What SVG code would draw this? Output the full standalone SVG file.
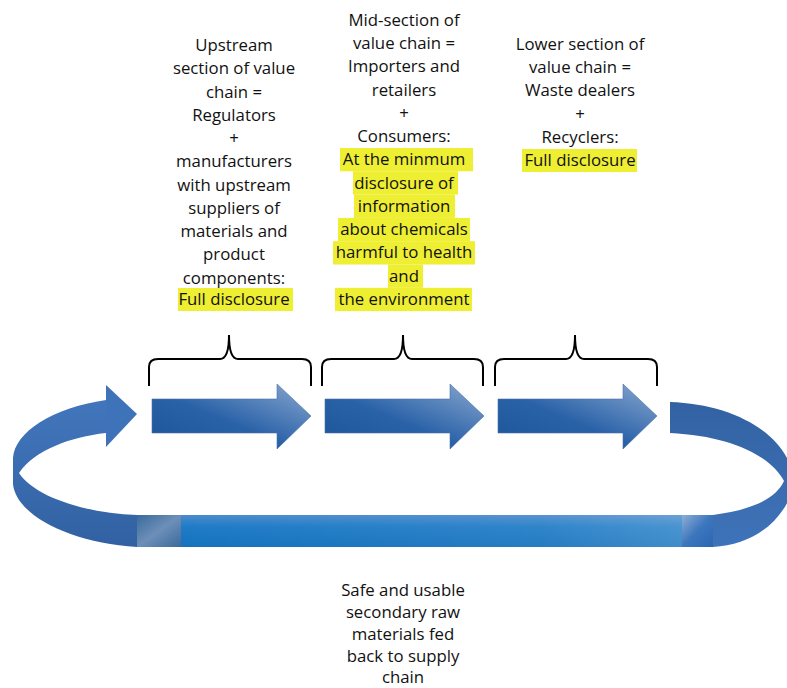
<svg xmlns="http://www.w3.org/2000/svg" width="787" height="688" viewBox="0 0 787 688">
<defs>
<linearGradient id="arrowGrad" x1="0" y1="1" x2="1" y2="0">
<stop offset="0" stop-color="#1C5499"/>
<stop offset="0.45" stop-color="#2A62A8"/>
<stop offset="1" stop-color="#8AA8D0"/>
</linearGradient>
<linearGradient id="barGrad" x1="0" y1="0" x2="0" y2="1">
<stop offset="0" stop-color="#4A8ACB"/>
<stop offset="0.35" stop-color="#1E7BC6"/>
<stop offset="1" stop-color="#1270BC"/>
</linearGradient>
<linearGradient id="barShine" x1="0" y1="0" x2="1" y2="0">
<stop offset="0" stop-color="#FFFFFF" stop-opacity="0"/>
<stop offset="0.7" stop-color="#FFFFFF" stop-opacity="0.08"/>
<stop offset="1" stop-color="#FFFFFF" stop-opacity="0.22"/>
</linearGradient>
<linearGradient id="leftLoop" x1="0" y1="0" x2="0" y2="1">
<stop offset="0" stop-color="#4276BC"/>
<stop offset="1" stop-color="#3161A2"/>
</linearGradient>
<linearGradient id="rightLoop" x1="0" y1="0" x2="0" y2="1">
<stop offset="0" stop-color="#3262A3"/>
<stop offset="1" stop-color="#3F73B9"/>
</linearGradient>
<linearGradient id="endL" x1="0" y1="0" x2="1" y2="1">
<stop offset="0" stop-color="#3A6A9C"/>
<stop offset="0.5" stop-color="#6D8FB8"/>
<stop offset="1" stop-color="#3A6A9C"/>
</linearGradient>
<linearGradient id="endR" x1="0" y1="0" x2="1" y2="1">
<stop offset="0" stop-color="#8FAED6"/>
<stop offset="0.5" stop-color="#3C76BD"/>
<stop offset="1" stop-color="#2B66B3"/>
</linearGradient>
<path id="arrowShape" d="M0,0 H125 V-15 L159,17 L125,50 V34 H0 Z"/>
</defs>
<style>
text{font-family:"Open Sans","Liberation Sans",sans-serif;font-size:16.8px;fill:#111;text-anchor:middle}
.hl{fill:#EEEE33}
.brace{fill:none;stroke:#000;stroke-width:2}
.arrow{fill:url(#arrowGrad);stroke:#4A70A8;stroke-width:0.6}
</style>

<g id="connectors">
<g id="loop">
<path d="M106,400 C52,408 15,432 13,458 L13,484 C16,515 70,543 137,547 L137,515 C85,513 35,497 19,473 C35,450 70,437 106,433 Z" fill="url(#leftLoop)"/>
<path d="M106,385 L137,414 L106,447 Z" fill="#3F73B9"/>
<rect x="137" y="515" width="576" height="32" fill="url(#barGrad)"/>
<rect x="137" y="515" width="576" height="32" fill="url(#barShine)"/>
<rect x="137" y="515" width="44" height="32" fill="url(#endL)"/>
<rect x="682" y="515" width="31" height="32" fill="url(#endR)"/>
<path d="M670,402 C730,404 780,430 792,470 L792,492 C780,525 750,545 713,547 L713,515 C750,510 775,500 784,481 C770,455 730,436 670,433 Z" fill="url(#rightLoop)"/>
</g>
</g>

<g id="arrow1"><use href="#arrowShape" class="arrow" x="152" y="399"/></g>
<g id="arrow2"><use href="#arrowShape" class="arrow" x="325" y="399"/></g>
<g id="arrow3"><use href="#arrowShape" class="arrow" x="498" y="399"/></g>

<g id="brace1"><path class="brace" d="M149,386 V367 Q149,359 158,359 H220 Q229,359 229,335 Q229,359 238,359 H302 Q311,359 311,367 V386"/></g>
<g id="brace2"><path class="brace" d="M322,386 V367 Q322,359 331,359 H394 Q403,359 403,335 Q403,359 412,359 H474 Q483,359 483,367 V386"/></g>
<g id="brace3"><path class="brace" d="M495,386 V367 Q495,359 504,359 H566 Q575,359 575,335 Q575,359 584,359 H648 Q657,359 657,367 V386"/></g>

<g id="label-upstream">
<rect class="hl" x="178" y="288" width="115" height="23"/>
<text x="234" y="51">Upstream</text>
<text x="234" y="74">section of value</text>
<text x="234" y="98">chain =</text>
<text x="234" y="121">Regulators</text>
<text x="234" y="144">+</text>
<text x="234" y="167">manufacturers</text>
<text x="234" y="191">with upstream</text>
<text x="234" y="214">suppliers of</text>
<text x="234" y="237">materials and</text>
<text x="234" y="260">product</text>
<text x="234" y="284">components:</text>
<text x="234" y="305">Full disclosure</text>
</g>

<g id="label-mid">
<rect class="hl" x="340" y="148" width="133" height="23.3"/>
<rect class="hl" x="353" y="171.3" width="105" height="23.3"/>
<rect class="hl" x="354" y="194.6" width="101" height="23.3"/>
<rect class="hl" x="338" y="217.9" width="132" height="23.3"/>
<rect class="hl" x="333" y="241.2" width="142" height="23.3"/>
<rect class="hl" x="388" y="264.5" width="35" height="23.3"/>
<rect class="hl" x="335" y="287.8" width="137" height="23.3"/>
<text x="404" y="26">Mid-section of</text>
<text x="404" y="49">value chain =</text>
<text x="404" y="72">Importers and</text>
<text x="404" y="96">retailers</text>
<text x="404" y="119">+</text>
<text x="404" y="142">Consumers:</text>
<text x="404" y="165">At the minmum</text>
<text x="404" y="189">disclosure of</text>
<text x="404" y="212">information</text>
<text x="404" y="235">about chemicals</text>
<text x="404" y="258">harmful to health</text>
<text x="404" y="282">and</text>
<text x="404" y="305">the environment</text>
</g>

<g id="label-lower">
<rect class="hl" x="522" y="149" width="115" height="23"/>
<text x="580" y="50">Lower section of</text>
<text x="580" y="73">value chain =</text>
<text x="580" y="96">Waste dealers</text>
<text x="580" y="120">+</text>
<text x="580" y="143">Recyclers:</text>
<text x="580" y="166">Full disclosure</text>
</g>

<g id="label-bottom">
<text x="403" y="596">Safe and usable</text>
<text x="403" y="618">secondary raw</text>
<text x="403" y="640">materials fed</text>
<text x="403" y="662">back to supply</text>
<text x="403" y="683">chain</text>
</g>
</svg>
